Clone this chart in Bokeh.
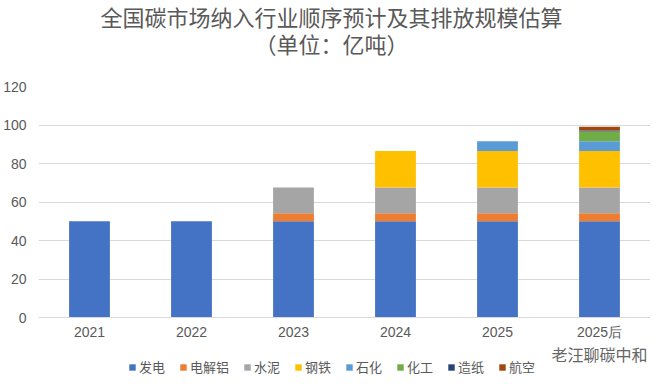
from bokeh.plotting import figure
from bokeh.models import Legend, LegendItem, Label, FactorRange, Range1d, FixedTicker
from bokeh.layouts import column
from bokeh.embed import file_html
from bokeh.resources import INLINE

# ---- data ----
years = ["2021", "2022", "2023", "2024", "2025", "2025后"]
sectors = ["发电", "电解铝", "水泥", "钢铁", "石化", "化工", "造纸", "航空"]
fadian = [50, 50, 50, 50, 50, 50]
dianjielv = [0, 0, 4.2, 4.2, 4.2, 4.2]
shuini = [0, 0, 13.3, 13.3, 13.3, 13.3]
gangtie = [0, 0, 0, 19, 19, 19]
shihua = [0, 0, 0, 0, 5, 5]
huagong = [0, 0, 0, 0, 0, 5.1]
zaozhi = [0, 0, 0, 0, 0, 0.6]
hangkong = [0, 0, 0, 0, 0, 1.9]
y_ticks = [0, 20, 40, 60, 80, 100, 120]
title_text = "全国碳市场纳入行业顺序预计及其排放规模估算"
subtitle_text = "（单位：亿吨）"
watermark_text = "老汪聊碳中和"

colors = ["#4472C4", "#ED7D31", "#A5A5A5", "#FFC000", "#5B9BD5", "#70AD47", "#264478", "#9E480E"]

source = dict(years=years)
for name, vals in zip(sectors, [fadian, dianjielv, shuini, gangtie, shihua, huagong, zaozhi, hangkong]):
    source[name] = vals

CJK = "Noto Sans CJK SC"
GREY = "#595959"

# ---- title strip ----
r = figure(width=650, height=62, x_range=Range1d(0, 1), y_range=Range1d(0, 1),
           output_backend="svg", toolbar_location=None, x_axis_type=None, y_axis_type=None,
           title_location=None, min_border_top=0, min_border_left=0,
           min_border_right=0, min_border_bottom=0)
r.outline_line_color = None
r.xgrid.grid_line_color = None
r.ygrid.grid_line_color = None
r.add_layout(Label(x=293, y=47, x_units="screen", y_units="screen", text=title_text,
                   text_align="center", text_baseline="middle", text_font=CJK,
                   text_font_size="22px", text_color=GREY))
r.add_layout(Label(x=293, y=20, x_units="screen", y_units="screen", text=subtitle_text,
                   text_align="center", text_baseline="middle", text_font=CJK,
                   text_font_size="22px", text_color=GREY))

# ---- main chart ----
p = figure(width=650, height=280, x_range=FactorRange(*years), y_range=Range1d(0, 120),
           output_backend="svg", toolbar_location=None, title_location=None,
           min_border_top=24, min_border_left=0, min_border_right=0, min_border_bottom=0)
p.outline_line_color = None
p.background_fill_color = "white"

p.vbar_stack(sectors, x="years", width=0.4, source=source, color=colors, line_color=None)

p.yaxis.ticker = FixedTicker(ticks=y_ticks)
p.yaxis.axis_line_color = None
p.yaxis.major_tick_line_color = None
p.yaxis.minor_tick_line_color = None
p.yaxis.major_label_standoff = 6
p.xaxis.axis_line_color = "#D9D9D9"
p.xaxis.major_tick_line_color = None
p.xaxis.minor_tick_line_color = None
p.xaxis.major_label_standoff = 0
for ax in (p.xaxis, p.yaxis):
    ax.major_label_text_font = "Liberation Sans"
    ax.major_label_text_font_size = "14px"
    ax.major_label_text_color = GREY
p.xgrid.grid_line_color = None
p.ygrid.grid_line_color = "#D9D9D9"

# ---- legend strip ----
q = figure(width=650, height=34, x_range=FactorRange(*years), y_range=Range1d(500, 501),
           output_backend="svg", toolbar_location=None, x_axis_type=None, y_axis_type=None,
           title_location=None, min_border_top=0, min_border_left=0,
           min_border_right=0, min_border_bottom=0)
q.outline_line_color = None
q.xgrid.grid_line_color = None
q.ygrid.grid_line_color = None
swatches = q.vbar_stack(sectors, x="years", width=0.4, source=source, color=colors, line_color=None)
items = [LegendItem(label=s, renderers=[rr]) for s, rr in zip(sectors, swatches)]
legend = Legend(items=items, orientation="horizontal", location=(90, 0),
                label_text_font=CJK, label_text_font_size="13px", label_text_color=GREY,
                glyph_width=8, glyph_height=8, label_standoff=3, spacing=14,
                padding=0, margin=0, label_height=14,
                border_line_color=None, background_fill_alpha=0)
q.add_layout(legend, "center")
q.add_layout(Label(x=513, y=23, x_units="screen", y_units="screen", text=watermark_text,
                   text_baseline="middle", text_font=CJK, text_font_size="16px",
                   text_color="#666666"))

open("out.html", "w").write(file_html(column(r, p, q, spacing=0), INLINE))
